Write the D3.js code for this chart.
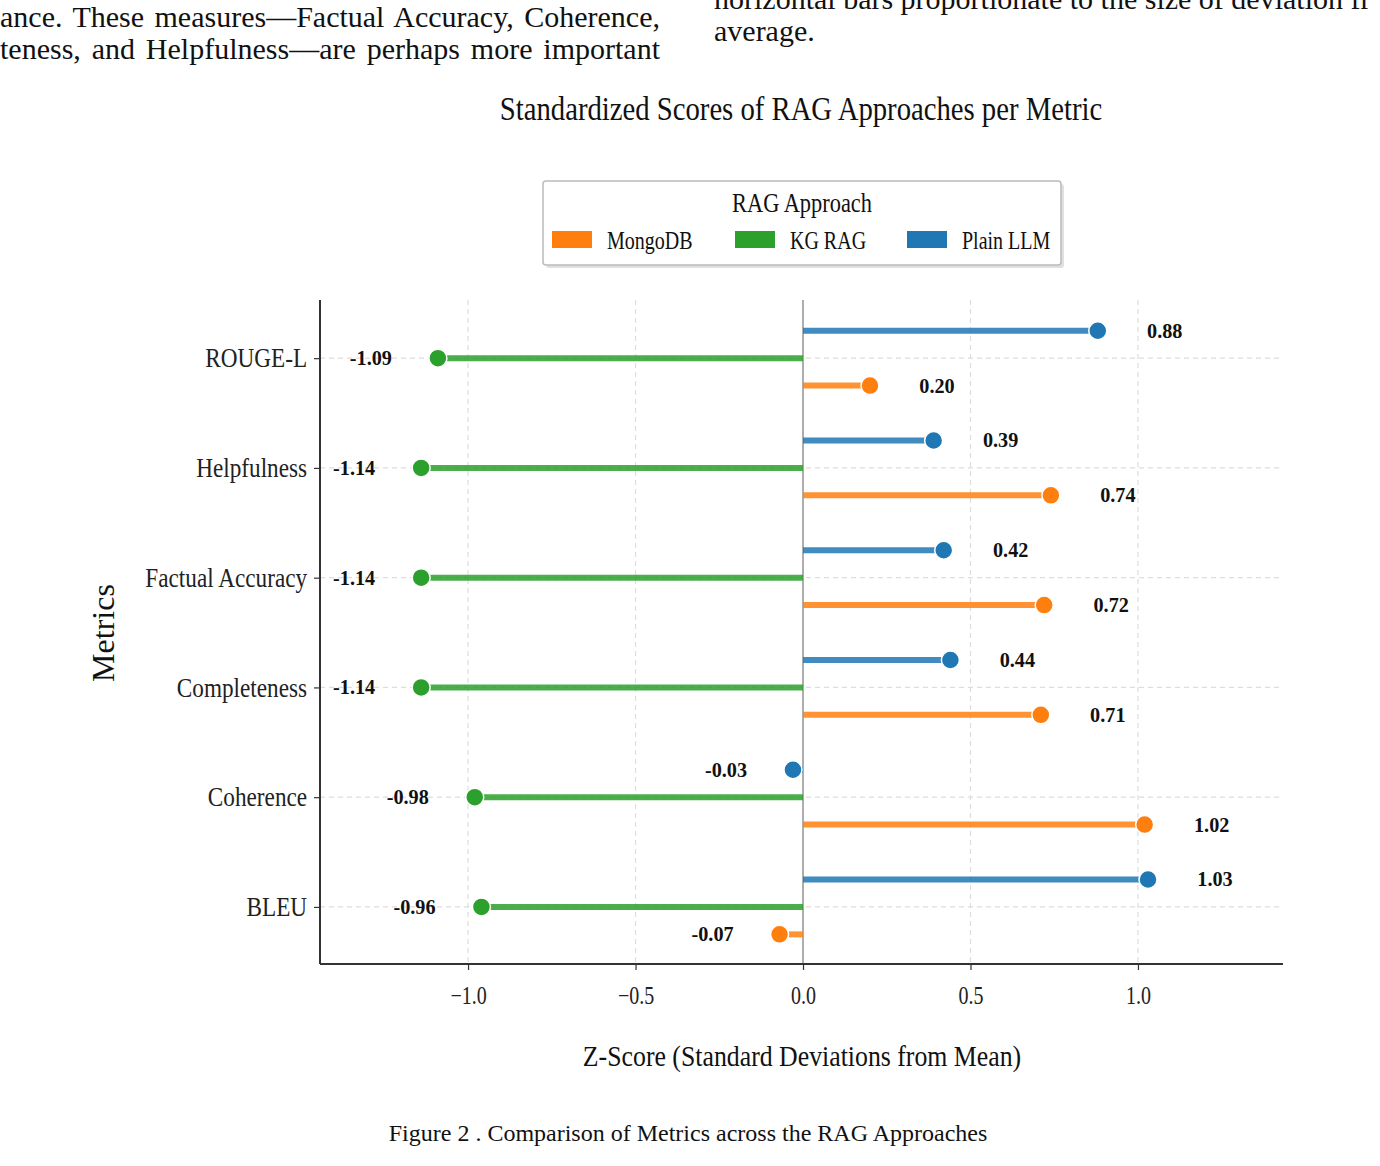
<!DOCTYPE html>
<html>
<head>
<meta charset="utf-8">
<script src="https://cdn.jsdelivr.net/npm/d3@7"></script>
<style>
  body { margin: 0; background: #fff; }
  svg text { font-family: "Liberation Serif", "Times New Roman", serif; }
</style>
</head>
<body>
<div id="chart"></div>
<script>
// Datos del grafico
const metricas = ["ROUGE-L", "Helpfulness", "Factual Accuracy", "Completeness", "Coherence", "BLEU"];
const enfoques = ["MongoDB", "KG RAG", "Plain LLM"];
const valoresPlain = [0.88, 0.39, 0.42, 0.44, -0.03, 1.03];
const valoresKG = [-1.09, -1.14, -1.14, -1.14, -0.98, -0.96];
const valoresMongo = [0.20, 0.74, 0.72, 0.71, 1.02, -0.07];
const ticksX = [-1.0, -0.5, 0.0, 0.5, 1.0];

const colores = { "MongoDB": "#ff7f0e", "KG RAG": "#2ca02c", "Plain LLM": "#1f77b4" };
const offsets = { "Plain LLM": -0.25, "KG RAG": 0, "MongoDB": 0.25 };

const WIDTH = 1380;
const HEIGHT = 1166;
const SX = 0.8; // texto comprimido horizontalmente como en la figura

const MARGIN = { top: 300, bottom: 202, left: 320, right: 97 };

const svg = d3.select("#chart")
    .append("svg")
    .attr("width", WIDTH)
    .attr("height", HEIGHT);

function texto(g, x, y, str, size, opts = {}) {
    return g.append("text")
        .attr("transform", `translate(${x},${y}) scale(${opts.sx || SX},1)`)
        .attr("text-anchor", opts.anchor || "middle")
        .attr("font-size", size)
        .attr("font-weight", opts.weight || "normal")
        .attr("fill", "#111")
        .text(str);
}

// Texto del articulo (cortado arriba), lineas justificadas con word-spacing
function lineaJustificada(x0, x1, y, str) {
    const t = svg.append("text")
        .attr("x", x0).attr("y", y)
        .attr("font-size", 30)
        .attr("fill", "#111")
        .text(str);
    const natural = t.node().getComputedTextLength();
    const espacios = (str.match(/ /g) || []).length;
    if (espacios > 0) t.attr("word-spacing", ((x1 - x0) - natural) / espacios);
}
lineaJustificada(0, 660, 27, "ance. These measures\u2014Factual Accuracy, Coherence,");
lineaJustificada(0, 660, 59, "teness, and Helpfulness\u2014are perhaps more important");
svg.append("text").attr("x", 714).attr("y", 9)
    .attr("font-size", 30).attr("fill", "#111")
    .text("horizontal bars proportionate to the size of deviation fr");
svg.append("text").attr("x", 714).attr("y", 41)
    .attr("font-size", 30).attr("fill", "#111")
    .text("average.");

// Titulo
texto(svg, 801, 120, "Standardized Scores of RAG Approaches per Metric", 33, { sx: 0.87 });

// Escalas
const x = d3.scaleLinear()
    .domain([-1.442, 1.433])
    .range([MARGIN.left, WIDTH - MARGIN.right]);

const y = d3.scaleLinear()
    .domain([-0.53, 5.52])
    .range([MARGIN.top, HEIGHT - MARGIN.bottom]);

const plot = svg.append("g");

// Grid
plot.selectAll(".grid-v")
    .data(ticksX.filter(d => d !== 0))
    .join("line")
    .attr("x1", d => x(d)).attr("x2", d => x(d))
    .attr("y1", y(-0.53)).attr("y2", y(5.52))
    .attr("stroke", "#ddd").attr("stroke-width", 1.2)
    .attr("stroke-dasharray", "5,4");

plot.selectAll(".grid-h")
    .data(metricas)
    .join("line")
    .attr("x1", x.range()[0]).attr("x2", x.range()[1])
    .attr("y1", (d, i) => y(i)).attr("y2", (d, i) => y(i))
    .attr("stroke", "#ddd").attr("stroke-width", 1.2)
    .attr("stroke-dasharray", "5,4");

// Linea cero
plot.append("line")
    .attr("x1", x(0)).attr("x2", x(0))
    .attr("y1", y(-0.53)).attr("y2", y(5.52))
    .attr("stroke", "#999").attr("stroke-width", 1.6);

// Datos en formato largo
const filas = [];
metricas.forEach((m, i) => {
    filas.push({ metrica: i, enfoque: "Plain LLM", valor: valoresPlain[i] });
    filas.push({ metrica: i, enfoque: "KG RAG", valor: valoresKG[i] });
    filas.push({ metrica: i, enfoque: "MongoDB", valor: valoresMongo[i] });
});

const barras = plot.selectAll(".barra")
    .data(filas)
    .join("g")
    .attr("class", "barra");

barras.append("line")
    .attr("x1", x(0))
    .attr("x2", d => x(d.valor))
    .attr("y1", d => y(d.metrica + offsets[d.enfoque]))
    .attr("y2", d => y(d.metrica + offsets[d.enfoque]))
    .attr("stroke", d => colores[d.enfoque])
    .attr("stroke-width", 6)
    .attr("stroke-opacity", 0.85);

barras.append("circle")
    .attr("cx", d => x(d.valor))
    .attr("cy", d => y(d.metrica + offsets[d.enfoque]))
    .attr("r", 9)
    .attr("fill", d => colores[d.enfoque])
    .attr("stroke", "#fff")
    .attr("stroke-width", 1.5);

barras.each(function(d) {
    const xv = d.valor >= 0 ? x(d.valor + 0.2) : x(d.valor - 0.2);
    texto(d3.select(this), xv, y(d.metrica + offsets[d.enfoque]) + 7, d.valor.toFixed(2), 22, { weight: "bold", sx: 0.92 });
});

// Ejes
const ejeX = svg.append("g")
    .attr("transform", `translate(0, ${HEIGHT - MARGIN.bottom})`)
    .call(d3.axisBottom(x).tickValues(ticksX).tickSizeOuter(0).tickSize(6)
        .tickFormat(d => d3.format(".1f")(d).replace("-", "\u2212")));
ejeX.select(".domain").remove();
ejeX.selectAll(".tick line").attr("stroke", "#333").attr("stroke-width", 1.2);
ejeX.selectAll(".tick text")
    .attr("font-size", 25).attr("fill", "#222")
    .attr("dy", "1.25em")
    .attr("transform", `scale(${SX},1)`);

const ejeY = svg.append("g")
    .attr("transform", `translate(${MARGIN.left}, 0)`)
    .call(d3.axisLeft(y).tickValues(d3.range(metricas.length)).tickSizeOuter(0).tickSize(6)
        .tickFormat(i => metricas[i]));
ejeY.select(".domain").remove();
ejeY.selectAll(".tick line").attr("stroke", "#333").attr("stroke-width", 1.2);
ejeY.selectAll(".tick text")
    .attr("font-size", 27).attr("fill", "#222")
    .attr("x", -15)
    .attr("transform", `scale(0.86,1)`);

// Spines
svg.append("line")
    .attr("x1", x.range()[0]).attr("x2", x.range()[0])
    .attr("y1", y.range()[0]).attr("y2", y.range()[1])
    .attr("stroke", "#333").attr("stroke-width", 2);
svg.append("line")
    .attr("x1", x.range()[0]).attr("x2", x.range()[1])
    .attr("y1", y.range()[1]).attr("y2", y.range()[1])
    .attr("stroke", "#333").attr("stroke-width", 2);

// Titulos de ejes
texto(svg, 802, 1066, "Z-Score (Standard Deviations from Mean)", 30, { sx: 0.86 });
svg.append("text")
    .attr("transform", `translate(114, 633) rotate(-90)`)
    .attr("text-anchor", "middle")
    .attr("font-size", 32)
    .attr("fill", "#111")
    .text("Metrics");

// Leyenda
const leyenda = svg.append("g");
leyenda.append("rect")
    .attr("x", 546).attr("y", 184).attr("width", 518).attr("height", 84)
    .attr("rx", 3).attr("fill", "#ccc").attr("opacity", 0.6);
leyenda.append("rect")
    .attr("x", 543).attr("y", 181).attr("width", 518).attr("height", 84)
    .attr("rx", 3).attr("fill", "#fff").attr("stroke", "#bbb").attr("stroke-width", 1.5);
texto(leyenda, 802, 212, "RAG Approach", 28);

const itemsX = [552, 735, 907];
enfoques.forEach((e, i) => {
    leyenda.append("rect")
        .attr("x", itemsX[i]).attr("y", 231).attr("width", 40).attr("height", 17)
        .attr("fill", colores[e]);
    texto(leyenda, itemsX[i] + 55, 249, e, 25, { anchor: "start" });
});

// Pie de figura
svg.append("text")
    .attr("x", 688).attr("y", 1141)
    .attr("text-anchor", "middle")
    .attr("font-size", 24)
    .attr("fill", "#111")
    .text("Figure 2 . Comparison of Metrics across the RAG Approaches");
</script>
</body>
</html>
